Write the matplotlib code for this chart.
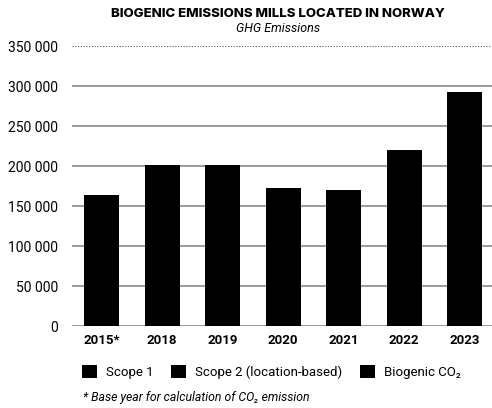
import matplotlib
matplotlib.use("Agg")
import matplotlib.pyplot as plt
from matplotlib.ticker import FuncFormatter
import numpy as np

plt.rcParams['font.family'] = ['Roboto', 'DejaVu Sans']

# データ
years = ["2015*", "2018", "2019", "2020", "2021", "2022", "2023"]
scope1 = [15000, 16000, 16000, 15000, 14000, 15000, 14000]
scope2 = [2000, 2000, 2000, 2000, 2000, 2000, 2000]
biogenic = [147000, 183500, 183500, 156000, 154500, 202500, 276000]
yticks = [0, 50000, 100000, 150000, 200000, 250000, 300000, 350000]

fig = plt.figure(figsize=(4.92, 4.08), dpi=100)
ax = fig.add_axes([72 / 492, 1 - 326 / 408, 1 - 72 / 492, 280 / 408])

x = np.arange(len(years))
w = 0.58
s1 = np.array(scope1)
s2 = np.array(scope2)
ax.bar(x, scope1, width=w, color="black", label="Scope 1", zorder=3)
ax.bar(x, scope2, width=w, bottom=s1, color="black", label="Scope 2 (location-based)", zorder=3)
ax.bar(x, biogenic, width=w, bottom=s1 + s2, color="black", label="Biogenic CO\u2082", zorder=3)

ax.set_xlim(-0.49, 6.45)
ax.set_ylim(0, 350000)
ax.set_yticks(yticks)
ax.yaxis.set_major_formatter(FuncFormatter(lambda v, p: f"{int(v):,}".replace(",", " ")))
ax.set_xticks(x)
ax.set_xticklabels(years, fontweight="bold", fontsize=9.5)
ax.tick_params(axis="y", length=0, pad=10, labelsize=10)
ax.tick_params(axis="x", length=0, pad=6)

# グリッド
for v in yticks[:-1]:
    ax.axhline(v, color="#8a8a8a", lw=1.2, zorder=1)
ax.axhline(350000, color="#555555", lw=0.8, ls=(0, (1, 1.5)), zorder=1)
for s in ax.spines.values():
    s.set_visible(False)

fig.text(0.565, 0.966, "BIOGENIC EMISSIONS MILLS LOCATED IN NORWAY",
         ha="center", va="center", fontsize=9.5, fontweight="heavy", family="Inter")
fig.text(0.565, 0.931, "GHG Emissions", ha="center", va="center",
         fontsize=9, style="italic")

fig.legend(loc="center left", bbox_to_anchor=(70 / 492, 0.088), ncol=3, frameon=False,
           fontsize=9.5, handlelength=1.15, handleheight=1.15, handletextpad=0.7,
           columnspacing=1.3)

fig.text(83 / 492, 0.025, "* Base year for calculation of CO\u2082 emission",
         ha="left", va="center", fontsize=8.8, style="italic")

fig.savefig("out.png", dpi=100)
